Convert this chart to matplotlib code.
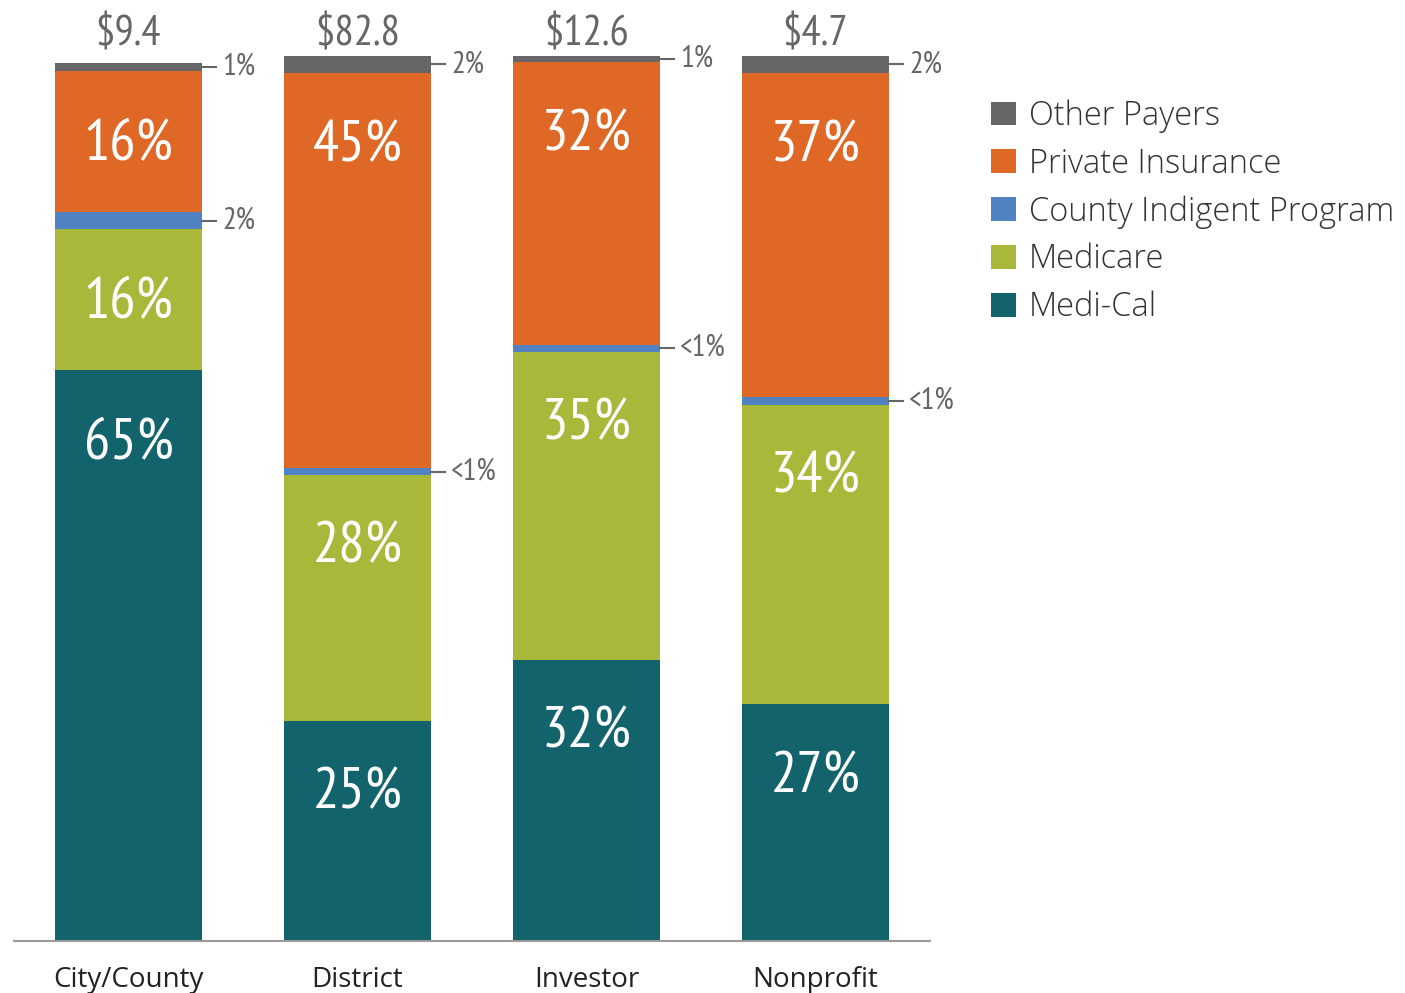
import matplotlib.pyplot as plt
import numpy as np

# Data (percent of revenue by payer)
categories = ["City/County", "District", "Investor", "Nonprofit"]
totals = ["$9.4", "$82.8", "$12.6", "$4.7"]
payers = ["Medi-Cal", "Medicare", "County Indigent Program", "Private Insurance", "Other Payers"]
medi_cal = [64.5, 24.9, 31.8, 26.8]
medicare = [15.9, 27.8, 34.8, 33.8]
indigent = [2.0, 0.7, 0.8, 0.9]
private = [15.9, 44.7, 31.9, 36.6]
other = [0.9, 1.9, 0.8, 1.9]
medi_cal_lbl = ["65%", "25%", "32%", "27%"]
medicare_lbl = ["16%", "28%", "35%", "34%"]
indigent_lbl = ["2%", "<1%", "<1%", "<1%"]
private_lbl = ["16%", "45%", "32%", "37%"]
other_lbl = ["1%", "2%", "1%", "2%"]

colors = ["#12636b", "#a9b73a", "#5183c3", "#df6827", "#666666"]
narrow = ["PT Sans Narrow", "Open Sans Condensed", "Roboto Condensed", "Archivo Narrow", "DejaVu Sans"]
plain = ["Open Sans", "DejaVu Sans"]

fig = plt.figure(figsize=(14.05, 9.93), dpi=100)
ax = fig.add_axes([14 / 1405, 1 - 941 / 993, (930 - 14) / 1405, 885 / 993])

x = np.arange(len(categories))
w = 0.64
series = [medi_cal, medicare, indigent, private, other]
inner = [medi_cal_lbl, medicare_lbl, None, private_lbl, None]
bottom = np.zeros(len(categories))
for vals, col, name, lbls in zip(series, colors, payers, inner):
    ax.bar(x, vals, w, bottom=bottom, color=col, label=name, zorder=2)
    if lbls is not None:
        for i, v in enumerate(vals):
            top = bottom[i] + v
            ax.text(x[i], top - 8.3, lbls[i], ha="center", va="center", color="white",
                    fontsize=42, family=narrow)
    bottom = bottom + np.array(vals)

# side annotations for the thin segments
base = np.array(medi_cal) + np.array(medicare)
for i in range(len(categories)):
    mid_ind = base[i] + indigent[i] / 2
    mid_oth = bottom[i] - other[i] / 2
    for yy, lab in [(mid_ind, indigent_lbl[i]), (mid_oth, other_lbl[i])]:
        ax.plot([x[i] + w / 2, x[i] + w / 2 + 0.062], [yy, yy], color="#666666", lw=1.5,
                clip_on=False)
        ax.text(x[i] + w / 2 + 0.088, yy, lab, ha="left", va="center", color="#666666",
                fontsize=22, family=narrow, clip_on=False)
    ax.text(x[i], 102.4, totals[i], ha="center", va="center", color="#666666",
            fontsize=31, family=narrow, clip_on=False)

ax.set_xlim(-0.5, 3.5)
ax.set_ylim(0, 100)
ax.set_yticks([])
ax.set_xticks(x)
ax.set_xticklabels(categories, fontsize=20, color="#222222", family=plain)
ax.tick_params(axis="x", length=0, pad=18)
for s in ["top", "right", "left"]:
    ax.spines[s].set_visible(False)
ax.spines["bottom"].set_color("#999999")
ax.spines["bottom"].set_linewidth(1.5)

h, l = ax.get_legend_handles_labels()
fig.legend(h[::-1], l[::-1], loc="upper left", bbox_to_anchor=(962 / 1405, 1 - 70 / 993),
           frameon=False, prop={"family": plain, "size": 23.5, "weight": "light"},
           handlelength=0.75, handleheight=0.75, handletextpad=0.4, labelspacing=0.44,
           labelcolor="#333333")

plt.savefig("out.png", dpi=100)
